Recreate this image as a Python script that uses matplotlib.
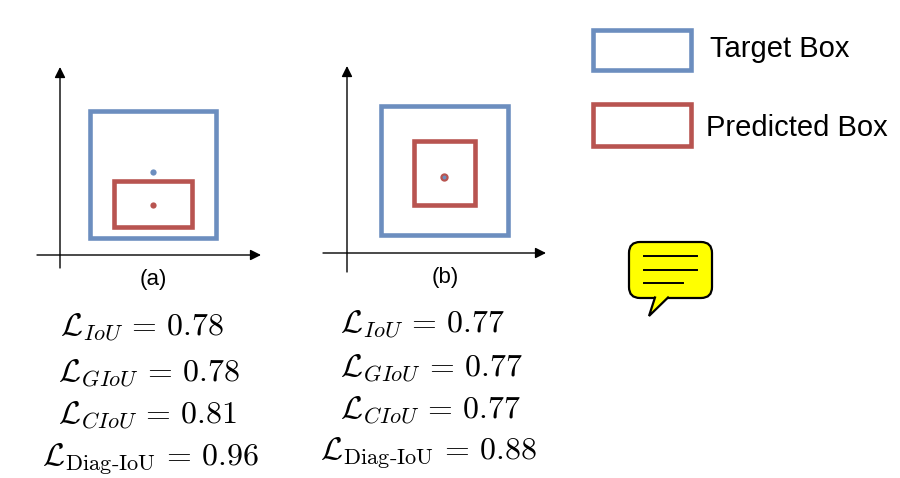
import matplotlib
matplotlib.use("Agg")
import matplotlib.pyplot as plt
from matplotlib.patches import Rectangle, FancyBboxPatch, Polygon

plt.rcParams['font.family'] = ['Liberation Sans', 'DejaVu Sans']
plt.rcParams['mathtext.fontset'] = 'cm'

# colours of the two box kinds
blue = '#6c8ebf'
red = '#b85450'

# boxes as (left, top, right, bottom) in pixel coords of the page
target_boxes = [(89.5, 110.5, 216, 238), (381, 106, 508, 235)]
pred_boxes = [(114, 181, 192, 227), (414, 141, 475, 205)]
target_centres = [(153, 172), (444, 177)]
pred_centres = [(153, 205), (444, 177)]
panel_labels = ['(a)', '(b)']

# loss values for each case
loss_names = [r'\mathcal{L}_{IoU}', r'\mathcal{L}_{GIoU}',
              r'\mathcal{L}_{CIoU}', r'\mathcal{L}_{\text{Diag-IoU}}']
loss_a = ['0.78', '0.78', '0.81', '0.96']
loss_b = ['0.77', '0.77', '0.77', '0.88']

legend_labels = ['Target Box', 'Predicted Box']

fig = plt.figure(figsize=(9, 4.78), dpi=100)
ax = fig.add_axes([0, 0, 1, 1])
ax.set_xlim(0, 900)
ax.set_ylim(478, 0)
ax.axis('off')

def rect(box, color):
    l, t, r, b = box
    ax.add_patch(Rectangle((l, t), r - l, b - t, fill=False, edgecolor=color, lw=3.3))

def axes_arrows(x0, y0, left, right, top, bottom):
    ap = dict(arrowstyle='-|>', color='black', lw=1, mutation_scale=16, shrinkA=0, shrinkB=0)
    ax.annotate('', xy=(x0, top), xytext=(x0, bottom), arrowprops=ap)
    ax.annotate('', xy=(right, y0), xytext=(left, y0), arrowprops=ap)

# coordinate axes of the two panels
axes_arrows(60, 255, 37, 261, 67, 268)
axes_arrows(347, 253, 323, 546, 66, 272)

for i in range(2):
    rect(target_boxes[i], blue)
    rect(pred_boxes[i], red)

# centre points
ax.plot(*target_centres[0], 'o', color=blue, ms=4.5, mec='none')
ax.plot(*pred_centres[0], 'o', color=red, ms=4.5, mec='none')
ax.plot(*pred_centres[1], 'o', color=red, ms=6, mec='none')
ax.plot(*target_centres[1], 'o', color=blue, ms=2.8, mec='none')

ax.text(153, 280, panel_labels[0], ha='center', va='center', fontsize=16)
ax.text(445, 278, panel_labels[1], ha='center', va='center', fontsize=16)

# loss formulas
left_x = [60, 58, 58, 42]
right_x = [340, 340, 340, 320]
base_a = [335, 381, 423, 466]
base_b = [332, 376, 418, 460]
for i in range(4):
    ax.text(left_x[i], base_a[i], '$' + loss_names[i] + r'\,=\,' + loss_a[i] + '$',
            ha='left', va='baseline', fontsize=23)
    ax.text(right_x[i], base_b[i], '$' + loss_names[i] + r'\,=\,' + loss_b[i] + '$',
            ha='left', va='baseline', fontsize=23)

# legend drawn by hand
rect((593, 30, 691, 70), blue)
rect((593, 104, 691, 146), red)
ax.text(710, 49, legend_labels[0], ha='left', va='center', fontsize=21)
ax.text(706, 128, legend_labels[1], ha='left', va='center', fontsize=21)

# speech bubble
ax.add_patch(FancyBboxPatch((629, 242), 83, 56, boxstyle='round,pad=0,rounding_size=11',
                            facecolor='#ffff00', edgecolor='black', lw=1.6))
ax.add_patch(Polygon([(655, 292), (655, 297), (649, 316), (668, 297), (668, 292)],
                     closed=True, facecolor='#ffff00', edgecolor='none', zorder=3))
ax.plot([655, 649, 668], [297.5, 316, 297.5], color='black', lw=1.6, zorder=4,
        solid_joinstyle='miter')
for y, x1 in zip([256, 270, 283], [697, 697, 683]):
    ax.plot([644, x1], [y, y], color='black', lw=1.4, zorder=4)

fig.savefig('out.png', dpi=100)
